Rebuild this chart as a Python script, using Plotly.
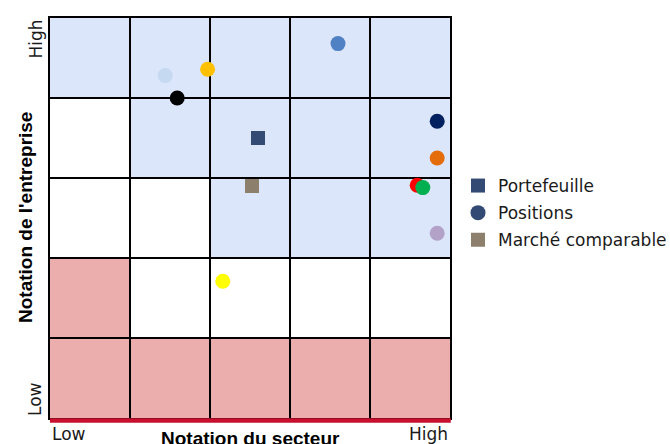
import plotly.graph_objects as go

# Grid cell categories (row 0 = top / High, col 0 = left / Low): B = blue, W = white, P = pink
cell_rows = [
    ["B", "B", "B", "B", "B"],
    ["W", "B", "B", "B", "B"],
    ["W", "W", "B", "B", "B"],
    ["P", "W", "W", "W", "W"],
    ["P", "P", "P", "P", "P"],
]
cell_colors = {"B": "#DCE6FA", "W": "#FFFFFF", "P": "#ECADAD"}

# Positions (circles)
pos_x = [1.44, 1.97, 1.59, 3.60, 4.84, 4.84, 4.59, 4.66, 4.84, 2.16]
pos_y = [4.28, 4.36, 4.00, 4.68, 3.71, 3.25, 2.91, 2.88, 2.31, 1.71]
pos_colors = ["#C5D9F1", "#FFC000", "#000000", "#4F81C4", "#002060",
              "#E46C0A", "#FF0000", "#00B050", "#B3A2C7", "#FFFF00"]

# Portefeuille and Marché comparable (squares)
port_x, port_y = [2.60], [3.50]
mkt_x, mkt_y = [2.525], [2.90]

legend_names = ["Portefeuille", "Positions", "Marché comparable"]
tick_low, tick_high = "Low", "High"
x_title = "Notation du secteur"
y_title = "Notation de l'entreprise"

LABEL_FONT = "DejaVu Sans, Verdana, sans-serif"
TITLE_FONT = "Liberation Sans, Arial, sans-serif"
TXT = "#1a1a1a"

fig = go.Figure()

shapes = []
n = len(cell_rows)
for r, row in enumerate(cell_rows):
    for c, key in enumerate(row):
        shapes.append(dict(type="rect", xref="x", yref="y",
                           x0=c, x1=c + 1, y0=n - r - 1, y1=n - r,
                           fillcolor=cell_colors[key], line=dict(width=0),
                           layer="below"))
# red baseline along the bottom edge
shapes.append(dict(type="line", xref="paper", yref="paper", x0=0, x1=1.002, y0=-0.006, y1=-0.006,
                   line=dict(color="#C8102E", width=4.5), layer="above"))

for i in range(len(pos_x)):
    fig.add_trace(go.Scatter(x=[pos_x[i]], y=[pos_y[i]], mode="markers",
                             marker=dict(size=15, color=pos_colors[i], symbol="circle"),
                             showlegend=False, hoverinfo="skip"))

fig.add_trace(go.Scatter(x=port_x, y=port_y, mode="markers", name=legend_names[0],
                         legendgroup="a",
                         marker=dict(size=14, color="#334A75", symbol="square")))
fig.add_trace(go.Scatter(x=[None], y=[None], mode="markers", name=legend_names[1],
                         legendgroup="b",
                         marker=dict(size=15, color="#334A75", symbol="circle")))
fig.add_trace(go.Scatter(x=mkt_x, y=mkt_y, mode="markers", name=legend_names[2],
                         legendgroup="c",
                         marker=dict(size=14, color="#8C7F6C", symbol="square")))

axis_common = dict(range=[0, 5], dtick=1, tick0=0, showgrid=True, gridcolor="#000000",
                   gridwidth=1.5, showticklabels=False, zeroline=False, showline=True,
                   linecolor="#000000", linewidth=1.5, mirror=True, ticks="", fixedrange=True)

fig.update_layout(
    width=670, height=444,
    margin=dict(l=50, r=220, t=18, b=26, autoexpand=False),
    paper_bgcolor="white", plot_bgcolor="white",
    xaxis=axis_common, yaxis=axis_common,
    shapes=shapes,
    font=dict(family=LABEL_FONT, color=TXT),
    legend=dict(x=1.02, y=0.625, xanchor="left", yanchor="top",
                font=dict(size=17, color=TXT, family=LABEL_FONT), itemwidth=30,
                bgcolor="rgba(0,0,0,0)", traceorder="grouped", tracegroupgap=2),
    showlegend=True,
    annotations=[
        dict(text=tick_low, xref="paper", yref="paper", x=0, y=0, xanchor="left", yanchor="top",
             yshift=-4, showarrow=False, font=dict(size=17, color=TXT, family=LABEL_FONT)),
        dict(text=tick_high, xref="paper", yref="paper", x=1, y=0, xanchor="right", yanchor="top",
             yshift=-4, showarrow=False, font=dict(size=17, color=TXT, family=LABEL_FONT)),
        dict(text=tick_low, xref="paper", yref="paper", x=0, y=0, xanchor="right", yanchor="bottom",
             xshift=-3, textangle=-90, showarrow=False, font=dict(size=17, color=TXT, family=LABEL_FONT)),
        dict(text=tick_high, xref="paper", yref="paper", x=0, y=1, xanchor="right", yanchor="top",
             xshift=-3, textangle=-90, showarrow=False, font=dict(size=17, color=TXT, family=LABEL_FONT)),
        dict(text="<b>" + x_title + "</b>", xref="paper", yref="paper", x=0.5, y=0, xanchor="center",
             yanchor="top", yshift=-8, showarrow=False,
             font=dict(size=19, color="#000000", family=TITLE_FONT)),
        dict(text="<b>" + y_title + "</b>", xref="paper", yref="paper", x=0, y=0.5, xanchor="center",
             yanchor="middle", xshift=-25, textangle=-90, showarrow=False,
             font=dict(size=19, color="#000000", family=TITLE_FONT)),
    ],
)

fig.write_html("out.html", config={"displayModeBar": False},
               post_script="document.body.style.margin='0';")
